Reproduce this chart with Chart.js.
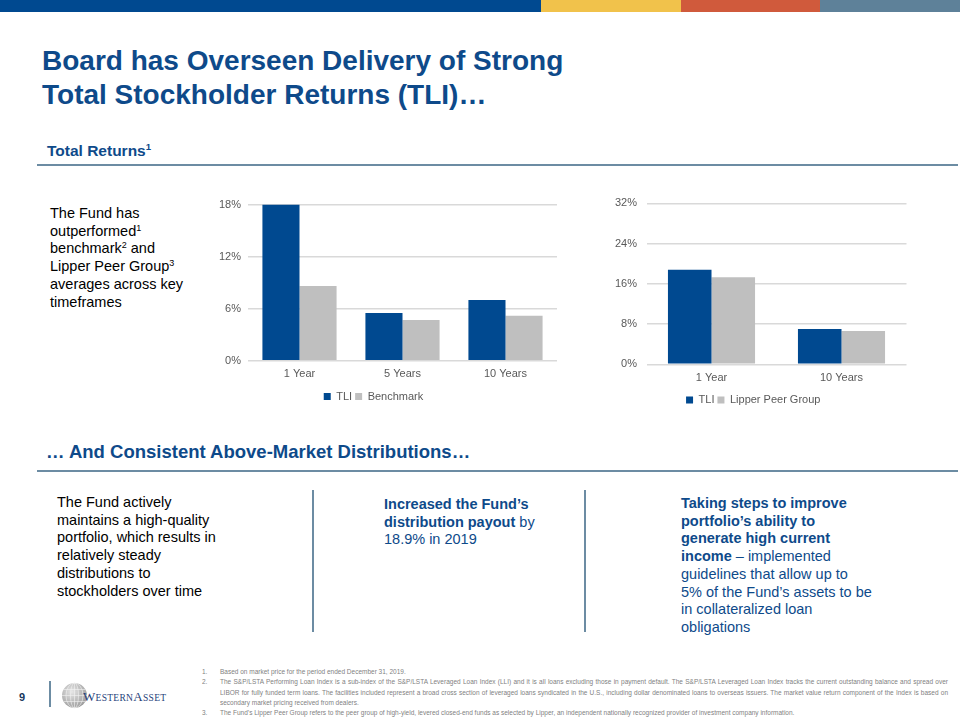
<!DOCTYPE html>
<html>
<head>
<meta charset="utf-8">
<script src="https://cdn.jsdelivr.net/npm/chart.js@4.4.1/dist/chart.umd.min.js"></script>
<style>
  body { margin: 0; width: 960px; height: 720px; position: relative; overflow: hidden; background: #fff;
         font-family: "Liberation Sans", Arial, sans-serif; }
  .abs { position: absolute; }
  .bar { position: absolute; top: 0; height: 12px; }
  .rule { position: absolute; background: #6C8CA3; }
  .body { font-size: 14.5px; line-height: 17.7px; color: #000; }
  .blue { color: #0E4A8A; }
  sup { font-size: 0.62em; line-height: 0; vertical-align: 0.6em; }
  .notes { left: 202px; top: 667px; width: 746px; font-size: 6.5px; line-height: 10.3px; color: #7F7F7F; }
  .note { display: flex; }
  .note .n { width: 18px; flex: none; }
  .note .t { width: 728px; }
  .j { text-align: justify; text-align-last: justify; }
  canvas { position: absolute; }
</style>
</head>
<body>
<div class="bar" style="left:0;width:541px;background:#004990"></div>
<div class="bar" style="left:541px;width:140px;background:#F1C24B"></div>
<div class="bar" style="left:681px;width:139px;background:#D05A3C"></div>
<div class="bar" style="left:820px;width:140px;background:#5E8199"></div>

<div class="abs blue" style="left:42px;top:44px;font-size:28px;line-height:34px;font-weight:bold;">Board has Overseen Delivery of Strong<br>Total Stockholder Returns (TLI)…</div>

<div class="abs blue" style="left:47px;top:142px;font-size:15.5px;line-height:18px;font-weight:bold;">Total Returns<sup>1</sup></div>
<div class="rule" style="left:37px;top:164px;width:921px;height:2px;"></div>

<div class="abs body" style="left:50px;top:205px;">The Fund has<br>outperformed<sup>1</sup><br>benchmark<sup>2</sup> and<br>Lipper Peer Group<sup>3</sup><br>averages across key<br>timeframes</div>

<canvas id="grafico_total" width="407" height="229" style="left:190px;top:184px;width:407px;height:229px;"></canvas>
<canvas id="grafico_peer" width="334" height="233" style="left:600px;top:183px;width:334px;height:233px;"></canvas>

<div class="abs blue" style="left:46px;top:441px;font-size:18.5px;line-height:22px;font-weight:bold;">… And Consistent Above-Market Distributions…</div>
<div class="rule" style="left:37px;top:470px;width:921px;height:2px;"></div>

<div class="abs body" style="left:57px;top:494px;">The Fund actively<br>maintains a high-quality<br>portfolio, which results in<br>relatively steady<br>distributions to<br>stockholders over time</div>
<div class="rule" style="left:312px;top:490px;width:2px;height:142px;"></div>
<div class="abs body blue" style="left:384px;top:496px;"><b>Increased the Fund’s<br>distribution payout</b> by<br>18.9% in 2019</div>
<div class="rule" style="left:584px;top:490px;width:2px;height:142px;"></div>
<div class="abs body blue" style="left:681px;top:495px;"><b>Taking steps to improve<br>portfolio’s ability to<br>generate high current<br>income</b> – implemented<br>guidelines that allow up to<br>5% of the Fund’s assets to be<br>in collateralized loan<br>obligations</div>

<div class="abs" style="left:19px;top:690px;font-size:11px;line-height:14px;font-weight:bold;color:#17365D;">9</div>
<div class="rule" style="left:49px;top:681px;width:2px;height:26px;"></div>
<svg class="abs" style="left:61px;top:682px;" width="27" height="27" viewBox="0 0 27 27">
  <defs>
    <radialGradient id="globo" cx="0.4" cy="0.35" r="0.7">
      <stop offset="0" stop-color="#E6E6E6"/>
      <stop offset="1" stop-color="#9A9A9A"/>
    </radialGradient>
  </defs>
  <circle cx="13.5" cy="13.5" r="12.5" fill="url(#globo)"/>
  <g fill="none" stroke="#F4F4F4" stroke-width="0.6">
    <ellipse cx="13.5" cy="13.5" rx="4" ry="12.5"/>
    <ellipse cx="13.5" cy="13.5" rx="8.5" ry="12.5"/>
    <line x1="13.5" y1="1" x2="13.5" y2="26"/>
    <line x1="1" y1="13.5" x2="26" y2="13.5"/>
    <line x1="3" y1="7.5" x2="24" y2="7.5"/>
    <line x1="3" y1="19.5" x2="24" y2="19.5"/>
  </g>
</svg>
<div class="abs" style="left:83px;top:688px;font-family:'Liberation Serif',serif;color:#1F3F7A;letter-spacing:0.3px;line-height:16px;">
  <span style="font-size:13px">W</span><span style="font-size:9.5px">ESTERN</span><span style="font-size:13px">A</span><span style="font-size:9.5px">SSET</span>
</div>

<div class="abs notes">
  <div class="note"><div class="n">1.</div><div class="t">Based on market price for the period ended December 31, 2019.</div></div>
  <div class="note"><div class="n">2.</div><div class="t">
    <div class="j">The S&amp;P/LSTA Performing Loan Index is a sub-index of the S&amp;P/LSTA Leveraged Loan Index (LLI) and it is all loans excluding those in payment default. The S&amp;P/LSTA Leveraged Loan Index tracks the current outstanding balance and spread over</div>
    <div class="j">LIBOR for fully funded term loans. The facilities included represent a broad cross section of leveraged loans syndicated in the U.S., including dollar denominated loans to overseas issuers. The market value return component of the Index is based on</div>
    <div>secondary market pricing received from dealers.</div>
  </div></div>
  <div class="note"><div class="n">3.</div><div class="t">The Fund’s Lipper Peer Group refers to the peer group of high-yield, levered closed-end funds as selected by Lipper, an independent nationally recognized provider of investment company information.</div></div>
</div>

<script>
const categoriasTotal = ['1 Year', '5 Years', '10 Years'];
const retornoTLI = [18.0, 5.5, 7.0];
const retornoBenchmark = [8.6, 4.7, 5.2];
const ticksTotal = [0, 6, 12, 18];

const categoriasPeer = ['1 Year', '10 Years'];
const peerTLI = [18.8, 7.0];
const peerLipper = [17.3, 6.6];
const ticksPeer = [0, 8, 16, 24, 32];

const fuente = '"Liberation Sans", Arial, sans-serif';
const colorTexto = '#595959';
const colorGrilla = '#D9D9D9';
const colorTLI = '#004990';
const colorGris = '#BFBFBF';

const crearGrafico = (canvasId, labels, datasets, valoresTicks, espacioBarras, padding, anchoEjeY, padEjeY) => {
    const ctx = document.getElementById(canvasId).getContext('2d');
    return new Chart(ctx, {
        type: 'bar',
        data: { labels, datasets },
        options: {
            responsive: false,
            animation: false,
            layout: { padding },
            datasets: { bar: { categoryPercentage: espacioBarras, barPercentage: 1 } },
            plugins: {
                tooltip: { enabled: false },
                legend: {
                    position: 'bottom',
                    labels: { boxWidth: 7, boxHeight: 7, padding: 3, color: colorTexto, font: { size: 11, family: fuente } }
                }
            },
            scales: {
                x: {
                    grid: { display: false, drawTicks: false },
                    border: { display: false },
                    ticks: { color: colorTexto, font: { size: 11, family: fuente }, padding: 7 }
                },
                y: {
                    min: valoresTicks[0],
                    max: valoresTicks[valoresTicks.length - 1],
                    grid: { color: colorGrilla, lineWidth: 1.5, drawTicks: false },
                    border: { display: false },
                    ticks: { color: colorTexto, font: { size: 11, family: fuente }, padding: padEjeY, callback: (v) => v + '%' },
                    afterBuildTicks: (scale) => { scale.ticks = valoresTicks.map(value => ({ value })); },
                    afterFit: (scale) => { scale.width = anchoEjeY; }
                }
            }
        }
    });
};

crearGrafico('grafico_total', categoriasTotal, [
    { label: 'TLI', data: retornoTLI, backgroundColor: colorTLI },
    { label: 'Benchmark', data: retornoBenchmark, backgroundColor: colorGris }
], ticksTotal, 0.72, { top: 20.5, right: 40, bottom: 1, left: 0 }, 58, 7);

crearGrafico('grafico_peer', categoriasPeer, [
    { label: 'TLI', data: peerTLI, backgroundColor: colorTLI },
    { label: 'Lipper Peer Group', data: peerLipper, backgroundColor: colorGris }
], ticksPeer, 0.67, { top: 20.3, right: 27.5, bottom: 0.5, left: 0 }, 46.5, 9.5);
</script>
</body>
</html>
